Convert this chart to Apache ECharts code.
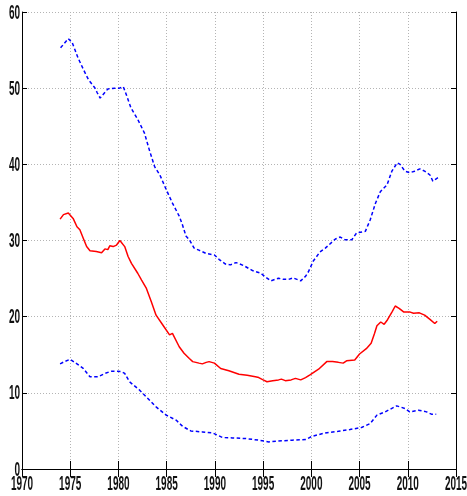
<!DOCTYPE html>
<html>
<head>
<meta charset="utf-8">
<style>
  html, body { margin: 0; padding: 0; background: #fff; }
  #chart { width: 467px; height: 496px; }
</style>
<script src="https://cdn.jsdelivr.net/npm/echarts@6/dist/echarts.min.js"></script>
</head>
<body>
<div id="chart"></div>
<script>
// Tick labels
const xTicks = [1970, 1975, 1980, 1985, 1990, 1995, 2000, 2005, 2010, 2015];
const yTicks = [0, 10, 20, 30, 40, 50, 60];

// Upper band (dashed blue): [year, value]
const upperBand = [
  [1974.0,55.3],[1974.4,55.9],[1974.8,56.5],[1975.2,56.0],[1975.5,55.0],[1975.8,54.0],
  [1976.35,52.5],[1976.9,51.1],[1977.55,50.05],[1977.8,49.4],[1978.1,48.7],[1978.5,49.3],
  [1978.9,49.9],[1979.6,50.0],[1980.1,50.0],[1980.5,50.2],[1980.8,49.2],[1981.3,47.4],
  [1982.0,45.9],[1982.7,44.1],[1983.2,41.9],[1983.75,39.7],[1984.3,38.6],[1984.95,36.7],
  [1985.6,34.9],[1986.3,33.2],[1986.6,32.2],[1987.0,30.6],[1987.35,30.1],[1987.85,29.0],
  [1988.4,28.7],[1989.1,28.3],[1989.95,28.1],[1990.45,27.5],[1991.1,26.9],[1991.6,26.8],
  [1992.2,27.1],[1993.0,26.7],[1993.9,26.05],[1994.75,25.7],[1995.25,25.2],[1995.8,24.7],
  [1996.6,25.05],[1997.1,24.9],[1997.65,24.9],[1998.1,25.1],[1998.9,24.7],[1999.4,25.3],
  [1999.7,25.9],[2000.2,27.3],[2000.9,28.5],[2001.45,29.0],[2001.8,29.4],[2002.5,30.2],
  [2003.0,30.45],[2003.5,30.1],[2004.2,30.1],[2004.7,31.0],[2005.6,31.2],[2006.1,32.7],
  [2006.65,34.9],[2007.15,36.4],[2007.85,37.3],[2008.35,39.1],[2008.9,40.2],[2009.2,40.0],
  [2009.7,39.1],[2010.2,38.9],[2010.7,39.1],[2011.25,39.4],[2011.75,39.1],[2012.3,38.6],
  [2012.6,37.8],[2012.95,38.1],[2013.2,38.3]
];

// Central estimate (solid red): [year, value]
const central = [
  [1973.95,32.8],[1974.3,33.4],[1974.8,33.6],[1975.0,33.6],[1975.3,32.9],[1975.7,31.8],
  [1976.0,31.4],[1976.35,30.3],[1976.7,29.2],[1977.05,28.65],[1977.7,28.55],[1978.25,28.4],
  [1978.6,28.9],[1978.9,28.8],[1979.1,29.3],[1979.45,29.2],[1979.8,29.4],[1980.15,30.0],
  [1980.65,29.2],[1981.0,27.9],[1981.35,27.0],[1982.0,25.7],[1982.4,24.8],[1982.9,23.7],
  [1983.4,22.0],[1983.9,20.2],[1984.6,18.9],[1985.3,17.6],[1985.6,17.8],[1986.3,16.05],
  [1986.8,15.2],[1987.35,14.5],[1987.7,14.1],[1988.35,13.9],[1988.7,13.8],[1989.1,14.0],
  [1989.4,14.1],[1989.95,13.9],[1990.6,13.2],[1991.45,12.9],[1992.5,12.45],[1993.35,12.3],
  [1994.2,12.1],[1994.55,12.0],[1995.0,11.7],[1995.4,11.45],[1996.0,11.6],[1996.6,11.7],
  [1996.9,11.8],[1997.3,11.6],[1997.9,11.7],[1998.35,11.9],[1998.9,11.7],[1999.4,12.0],
  [1999.9,12.4],[2000.75,13.1],[2001.6,14.1],[2002.2,14.1],[2002.8,14.0],[2003.3,13.9],
  [2003.65,14.2],[2004.5,14.3],[2005.0,15.1],[2005.7,15.8],[2006.2,16.5],[2006.55,17.8],
  [2006.8,18.8],[2007.2,19.3],[2007.55,19.0],[2007.9,19.6],[2008.4,20.7],[2008.7,21.4],
  [2009.1,21.1],[2009.6,20.6],[2010.25,20.6],[2010.6,20.45],[2011.2,20.5],[2011.75,20.2],
  [2012.3,19.65],[2012.8,19.1],[2013.05,19.4]
];

// Lower band (dashed blue): [year, value]
const lowerBand = [
  [1973.95,13.8],[1974.4,14.1],[1975.0,14.4],[1975.7,13.8],[1976.35,13.2],[1977.05,12.1],
  [1977.9,12.1],[1978.6,12.55],[1979.3,12.85],[1980.3,12.8],[1980.65,12.55],[1981.15,11.45],
  [1982.2,10.35],[1983.05,9.26],[1983.9,8.16],[1984.95,7.07],[1986.0,6.4],[1986.65,5.6],
  [1987.5,5.0],[1988.7,4.87],[1989.75,4.74],[1990.8,4.13],[1991.8,4.08],[1993.2,4.0],
  [1994.55,3.78],[1995.6,3.55],[1996.6,3.68],[1998.0,3.78],[1999.4,3.87],[2000.1,4.3],
  [2001.45,4.74],[2002.8,4.96],[2004.0,5.18],[2005.2,5.45],[2006.1,5.97],[2006.8,7.07],
  [2007.65,7.5],[2008.85,8.29],[2009.7,7.95],[2010.2,7.5],[2011.1,7.72],[2011.95,7.5],
  [2012.45,7.2],[2012.95,7.2]
];

const chart = echarts.init(document.getElementById('chart'));

const frame = { show: true, lineStyle: { color: '#000', width: 1 } };
const gridDots = { show: true, lineStyle: { color: '#b4b4b4', width: 1, type: [1, 2] } };

function xAxisDef(pos, withGrid) {
  return {
    type: 'value', position: pos, min: 1970, max: 2015, interval: 5,
    axisLine: frame,
    axisTick: { show: true, inside: true, length: 8, lineStyle: { color: '#000' } },
    axisLabel: { show: false },
    splitLine: withGrid ? gridDots : { show: false }
  };
}
function yAxisDef(pos, withGrid) {
  return {
    type: 'value', position: pos, min: 0, max: 60, interval: 10,
    axisLine: frame,
    axisTick: { show: true, inside: true, length: 5, lineStyle: { color: '#000' } },
    axisLabel: { show: false },
    splitLine: withGrid ? gridDots : { show: false }
  };
}

const bandStyle = { color: '#0000ff', width: 1.5, type: [3.5, 2.5] };

chart.setOption({
  animation: false,
  backgroundColor: '#fff',
  grid: { left: 22, right: 11, top: 12, bottom: 27 },
  xAxis: [xAxisDef('bottom', true), xAxisDef('top', false)],
  yAxis: [yAxisDef('left', true), yAxisDef('right', false)],
  series: [
    { type: 'line', data: upperBand, showSymbol: false, lineStyle: bandStyle, z: 3 },
    { type: 'line', data: central, showSymbol: false, lineStyle: { color: '#ff0000', width: 1.5 }, z: 4 },
    { type: 'line', data: lowerBand, showSymbol: false, lineStyle: bandStyle, z: 3 }
  ]
});

// Tall, condensed tick labels placed at the axis scale positions
function tickText(text, x, y, align) {
  return {
    type: 'text', x: x, y: y, scaleX: 0.5, scaleY: 1,
    silent: true, z: 10,
    style: {
      text: text, fontSize: 20, fontWeight: 'bold',
      fontFamily: '"Liberation Sans", Arial, sans-serif',
      fill: '#111', align: align, verticalAlign: 'middle'
    }
  };
}
const labels = [];
const xBase = chart.convertToPixel({ yAxisIndex: 0 }, 0);
xTicks.forEach(function (t) {
  labels.push(tickText(String(t), chart.convertToPixel({ xAxisIndex: 0 }, t), xBase + 15.5, 'center'));
});
const yLeft = chart.convertToPixel({ xAxisIndex: 0 }, 1970);
yTicks.forEach(function (t) {
  labels.push(tickText(String(t), yLeft - 2, chart.convertToPixel({ yAxisIndex: 0 }, t) + 1, 'right'));
});
chart.setOption({ graphic: labels });
</script>
</body>
</html>
